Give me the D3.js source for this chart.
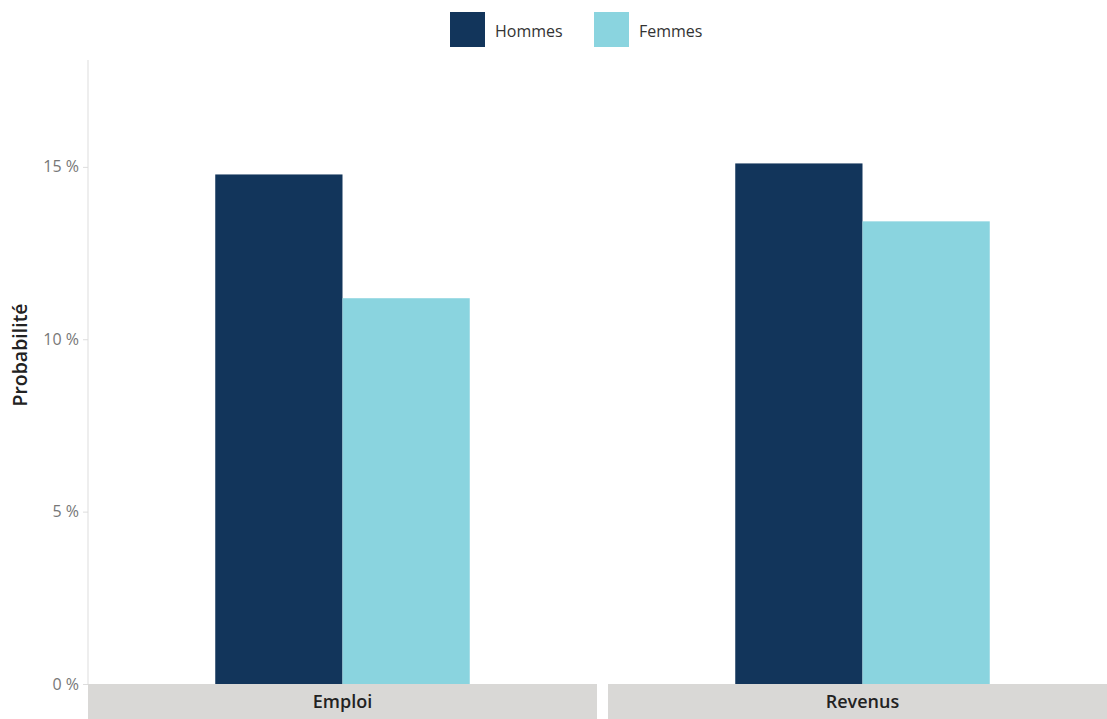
<!DOCTYPE html>
<html><head><meta charset="utf-8">
<script src="https://cdn.jsdelivr.net/npm/d3@7"></script>
<style>body{margin:0;background:#fff;} svg{display:block;font-family:"Open Sans","Noto Sans",sans-serif;}</style>
</head><body>
<svg id="c" width="1107" height="719"></svg>
<script>
const categories = ["Emploi", "Revenus"];
const series = ["Hommes", "Femmes"];
const hommes = [0.1478, 0.1510];
const femmes = [0.1119, 0.1342];
const yTicks = [0, 0.05, 0.10, 0.15];
const colors = ["#12355b", "#8ad4df"];

const svg = d3.select("#c");
const plotLeft = 88, plotTop = 60, plotBottom = 684, panelW = 509, gap = 11;

const y = d3.scaleLinear().domain([0, 0.181]).range([plotBottom, plotTop]);
const panelX = d3.scaleOrdinal().domain(categories).range(categories.map((c, i) => plotLeft + i * (panelW + gap)));
const inner = d3.scaleBand().domain(series).range([0, panelW]).paddingInner(0).paddingOuter(1);
const color = d3.scaleOrdinal().domain(series).range(colors);

const data = categories.map((c, i) => ({cat: c, values: [{s: "Hommes", v: hommes[i]}, {s: "Femmes", v: femmes[i]}]}));

// y axis
const yAxis = d3.axisLeft(y).tickValues(yTicks).tickSize(5).tickPadding(4)
  .tickFormat(d => d3.format(".0f")(d * 100) + "\u00a0%");
const ga = svg.append("g").attr("transform", `translate(${plotLeft},0)`).call(yAxis);
ga.select(".domain").attr("stroke", "#dddddd").attr("d", `M0,${plotTop}V${plotBottom}`);
ga.selectAll(".tick line").attr("stroke", "#dddddd");
ga.selectAll(".tick text").attr("fill", "#777").style("font-size", "16px").attr("font-family", "\"Open Sans\",sans-serif");

// panels
const panels = svg.selectAll("g.panel").data(data).join("g").attr("class", "panel")
  .attr("transform", d => `translate(${panelX(d.cat)},0)`);
panels.selectAll("rect.bar").data(d => d.values).join("rect").attr("class", "bar")
  .attr("x", d => inner(d.s)).attr("width", inner.bandwidth())
  .attr("y", d => y(d.v)).attr("height", d => y(0) - y(d.v))
  .attr("fill", d => color(d.s));
panels.append("rect").attr("x", 0).attr("y", plotBottom).attr("width", panelW).attr("height", 35).attr("fill", "#d9d8d6");
panels.append("text").attr("x", panelW / 2).attr("y", plotBottom + 18).attr("dy", "0.35em")
  .attr("text-anchor", "middle").attr("fill", "#222").style("font-size", "18px").style("font-weight", "600")
  .text(d => d.cat);

// y title
svg.append("text").attr("transform", "translate(20,355) rotate(-90)").attr("text-anchor", "middle")
  .attr("dy", "0.35em").attr("fill", "#222").style("font-size", "19.5px").style("font-weight", "600").text("Probabilité");

// legend
const legX = [450, 594];
const leg = svg.selectAll("g.leg").data(series).join("g").attr("class", "leg")
  .attr("transform", (d, i) => `translate(${legX[i]},12)`);
leg.append("rect").attr("width", 35).attr("height", 35).attr("fill", d => color(d));
leg.append("text").attr("x", 45).attr("y", 19).attr("dy", "0.35em").attr("fill", "#333")
  .style("font-size", "16px").text(d => d);
</script>
</body></html>
